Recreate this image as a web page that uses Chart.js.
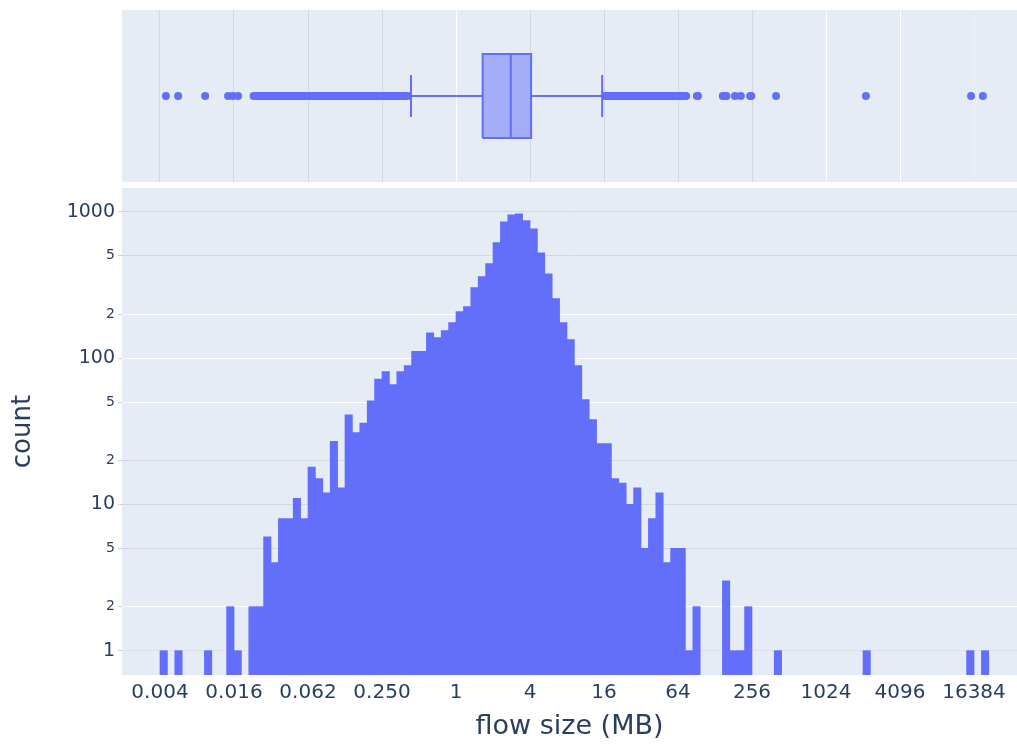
<!DOCTYPE html>
<html>
<head>
<meta charset="utf-8">
<title>flow size distribution</title>
<script src="https://cdn.jsdelivr.net/npm/chart.js@4.4.1/dist/chart.umd.min.js"></script>
<style>
  html, body { margin: 0; padding: 0; background: #ffffff; }
  #wrap { position: relative; width: 1017px; height: 744px; overflow: hidden; }
  #boxCanvas { position: absolute; left: 0; top: 0; }
  #histCanvas { position: absolute; left: 0; top: 188px; }
</style>
</head>
<body>
<div id="wrap">
  <canvas id="boxCanvas" width="1017" height="190"></canvas>
  <canvas id="histCanvas" width="1017" height="556"></canvas>
</div>
<script>
// Flow sizes are binned on a log2(MB) axis.
const binStart = -8;      // log2 of the first bin's left edge
const binWidth = 0.2;     // bin width in log2 units
const counts = [
  1, 0, 1, 0, 0, 0, 1, 0, 0, 2,
  1, 0, 2, 2, 6, 4, 8, 8, 11, 8,
  18, 15, 12, 27, 13, 41, 31, 36, 51, 72,
  81, 66, 81, 89, 111, 111, 149, 138, 154, 175,
  208, 225, 303, 360, 442, 615, 855, 955, 970, 869,
  766, 525, 377, 255, 175, 134, 89, 52, 38, 26,
  26, 15, 14, 10, 13, 5, 8, 12, 4, 5,
  5, 1, 2, 0, 0, 0, 3, 1, 1, 2,
  0, 0, 0, 1, 0, 0, 0, 0, 0, 0,
  0, 0, 0, 0, 0, 1, 0, 0, 0, 0,
  0, 0, 0, 0, 0, 0, 0, 0, 0, 1,
  0, 1
];

// Axis ticks
const xTickExps = [-8, -6, -4, -2, 0, 2, 4, 6, 8, 10, 12, 14];
const xTickLabels = ['0.004', '0.016', '0.062', '0.250', '1', '4', '16', '64', '256', '1024', '4096', '16384'];
const yTickValues = [1, 2, 5, 10, 20, 50, 100, 200, 500, 1000];
const yTickLabels = ['1', '2', '5', '10', '2', '5', '100', '2', '5', '1000'];

// Box plot summary (log2 MB)
const boxQ1 = 0.72;
const boxMedian = 1.48;
const boxQ3 = 2.03;
const fenceLow = -1.216;
const fenceHigh = 3.95;
// Individual outliers (log2 MB) and the dense outlier runs next to the whiskers
const outliersLow = [-7.84, -7.51, -6.78, -6.16, -6.03, -5.89, -5.47, -5.41];
const outliersHigh = [6.51, 6.54, 7.21, 7.27, 7.31, 7.54, 7.70, 7.95, 7.98, 8.65, 11.08, 13.92, 14.24];
const denseLow = [-5.36, -1.30];
const denseHigh = [4.03, 6.22];

// Shared layout values
const X_MIN = -9.027, X_MAX = 15.162;
const Y_MIN = 0.682, Y_MAX = 1454;
const FONT = 'DejaVu Sans';
const TEXT = '#2a3f5f';
const BLUE = '#636efa';
const GRID_GREY = '#d3d7de';
const xGridColors = [GRID_GREY, GRID_GREY, GRID_GREY, GRID_GREY, '#ffffff', GRID_GREY, GRID_GREY, GRID_GREY, GRID_GREY, '#ffffff', '#ffffff', '#eef0f4'];
const yGridColors = ['#dde1e7', '#ffffff', GRID_GREY, GRID_GREY, GRID_GREY, '#ffffff', '#ffffff', '#ffffff', GRID_GREY, GRID_GREY];

const plotBg = {
  id: 'plotBg',
  beforeDraw(chart) {
    const { ctx, chartArea: a } = chart;
    ctx.save();
    ctx.fillStyle = '#e5ecf6';
    ctx.fillRect(a.left, a.top, a.right - a.left, a.bottom - a.top);
    ctx.restore();
  }
};

function setXTicks(scale) {
  scale.ticks = xTickExps.map(v => ({ value: v }));
}

// ---- marginal box plot ----
const BOX_H = 0.488, CAP_H = 0.244;
const seg = (pts, extra) => Object.assign({
  type: 'line', data: pts, showLine: true, pointRadius: 0, borderColor: BLUE,
  borderWidth: 2, fill: false, tension: 0
}, extra || {});

new Chart(document.getElementById('boxCanvas'), {
  type: 'scatter',
  data: {
    datasets: [
      seg([{ x: boxQ1, y: BOX_H }, { x: boxQ3, y: BOX_H }],
          { borderWidth: 0, fill: { value: -BOX_H }, backgroundColor: 'rgba(99,110,250,0.5)' }),
      seg([{ x: boxQ1, y: -BOX_H }, { x: boxQ3, y: -BOX_H }, { x: boxQ3, y: BOX_H },
           { x: boxQ1, y: BOX_H }, { x: boxQ1, y: -BOX_H }]),
      seg([{ x: boxMedian, y: -BOX_H }, { x: boxMedian, y: BOX_H }]),
      seg([{ x: fenceLow, y: 0 }, { x: boxQ1, y: 0 }]),
      seg([{ x: boxQ3, y: 0 }, { x: fenceHigh, y: 0 }]),
      seg([{ x: fenceLow, y: -CAP_H }, { x: fenceLow, y: CAP_H }]),
      seg([{ x: fenceHigh, y: -CAP_H }, { x: fenceHigh, y: CAP_H }]),
      seg(denseLow.map(v => ({ x: v, y: 0 })), { borderWidth: 8, borderCapStyle: 'round' }),
      seg(denseHigh.map(v => ({ x: v, y: 0 })), { borderWidth: 8, borderCapStyle: 'round' }),
      {
        type: 'scatter',
        data: outliersLow.concat(outliersHigh).map(v => ({ x: v, y: 0 })),
        pointRadius: 4, pointBorderWidth: 0, backgroundColor: BLUE, borderColor: BLUE
      }
    ]
  },
  options: {
    responsive: false, animation: false, devicePixelRatio: 1,
    layout: { autoPadding: false, padding: { left: 122, top: 10, right: 0, bottom: 8 } },
    plugins: { legend: { display: false }, tooltip: { enabled: false } },
    scales: {
      x: {
        type: 'linear', min: X_MIN, max: X_MAX,
        afterBuildTicks: setXTicks,
        afterFit(s) { s.height = 0; s.paddingLeft = 0; s.paddingRight = 0; },
        ticks: { display: false },
        grid: { color: c => xGridColors[c.index] || '#ffffff', lineWidth: 1, drawTicks: false },
        border: { display: false }
      },
      y: { type: 'linear', min: -1, max: 1, display: false }
    }
  },
  plugins: [plotBg]
});

// ---- histogram ----
const histPoints = [];
counts.forEach((c, i) => {
  if (c > 0) histPoints.push({ x: binStart + (i + 0.5) * binWidth, y: c });
});

new Chart(document.getElementById('histCanvas'), {
  type: 'bar',
  data: {
    datasets: [{
      data: histPoints,
      backgroundColor: BLUE,
      borderWidth: 0,
      barPercentage: 1,
      categoryPercentage: 1
    }]
  },
  options: {
    responsive: false, animation: false, devicePixelRatio: 1,
    layout: { autoPadding: false, padding: 0 },
    plugins: { legend: { display: false }, tooltip: { enabled: false } },
    scales: {
      x: {
        type: 'linear', min: X_MIN, max: X_MAX, offset: false,
        afterBuildTicks: setXTicks,
        afterFit(s) { s.height = 69; s.paddingLeft = 0; s.paddingRight = 0; },
        ticks: {
          autoSkip: false, maxRotation: 0, padding: 6, color: TEXT,
          font: { family: FONT, size: 20 },
          callback: (v, i) => xTickLabels[i]
        },
        grid: { display: false, drawTicks: false },
        border: { display: false },
        title: {
          display: true, text: 'flow size (MB)', color: TEXT,
          font: { family: FONT, size: 27 }, padding: { top: 0, bottom: 1 }
        }
      },
      y: {
        type: 'logarithmic', min: Y_MIN, max: Y_MAX,
        afterBuildTicks(s) { s.ticks = yTickValues.map(v => ({ value: v })); },
        afterFit(s) { s.width = 122; s.paddingTop = 0; s.paddingBottom = 0; },
        ticks: {
          autoSkip: false, padding: 3, color: TEXT,
          font: c => {
            const v = c.tick ? c.tick.value : 1;
            const major = [1, 10, 100, 1000].includes(v);
            return { family: FONT, size: major ? 19 : 14 };
          },
          callback: (v, i) => yTickLabels[i]
        },
        grid: {
          color: c => yGridColors[c.index] || '#ffffff',
          tickColor: '#d0d4da', tickLength: 4, lineWidth: 1
        },
        border: { display: false },
        title: {
          display: true, text: 'count', color: TEXT,
          font: { family: FONT, size: 26 }, padding: { top: 8, bottom: 0 }
        }
      }
    }
  },
  plugins: [plotBg]
});
</script>
</body>
</html>
